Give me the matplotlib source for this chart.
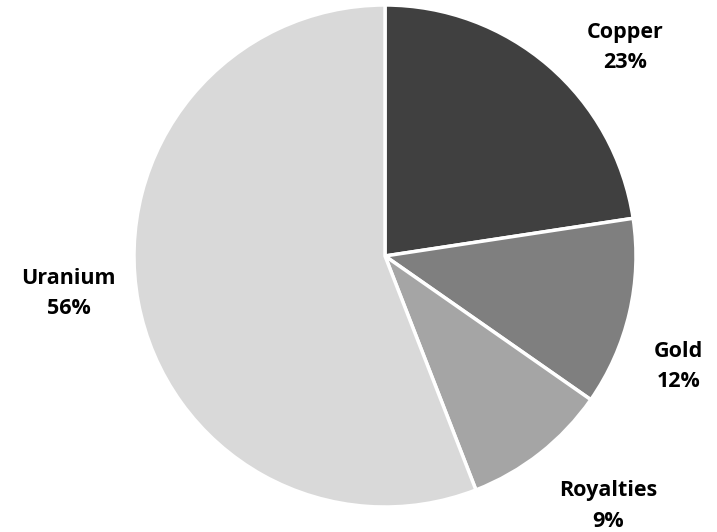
import matplotlib
matplotlib.use("Agg")
import matplotlib.pyplot as plt

categories = ["Copper", "Gold", "Royalties", "Uranium"]
shares = [22.6, 12.1, 9.4, 55.9]
pct_labels = ["23%", "12%", "9%", "56%"]
colors = ["#404040", "#7f7f7f", "#a5a5a5", "#d9d9d9"]

# label anchor positions in pie-radius units (layout, not data)
label_pos = [(0.955, 0.83), (1.17, -0.44), (0.89, -0.995), (-1.26, -0.15)]

W, H = 717, 532
fig = plt.figure(figsize=(W / 100, H / 100), dpi=100)
cx, cy, r = 385, 256, 251
ax = fig.add_axes([(cx - r) / W, (H - cy - r) / H, 2 * r / W, 2 * r / H])
ax.pie(shares, colors=colors, startangle=90, counterclock=False,
       wedgeprops=dict(edgecolor="white", linewidth=2.5))
ax.set_xlim(-1, 1)
ax.set_ylim(-1, 1)
ax.axis("off")

for cat, p, (x, y) in zip(categories, pct_labels, label_pos):
    ax.text(x, y, f"{cat}\n{p}", ha="center", va="center", fontsize=15.5,
            fontweight="bold", family=["Open Sans", "DejaVu Sans"],
            linespacing=1.6, color="black")

fig.savefig("out.png", dpi=100, facecolor="white")
